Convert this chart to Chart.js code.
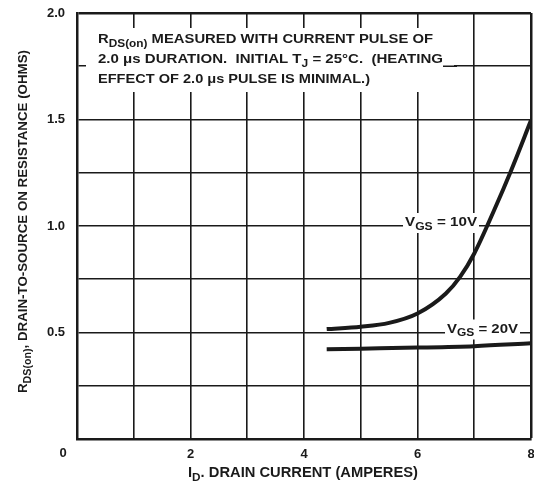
<!DOCTYPE html>
<html>
<head>
<meta charset="utf-8">
<script src="https://cdn.jsdelivr.net/npm/chart.js@4"></script>
<style>
  html, body { margin: 0; padding: 0; background: #fff; }
  #wrap { width: 534px; height: 487px; }
</style>
</head>
<body>
<div id="wrap"><canvas id="rdsChart" width="534" height="487"></canvas></div>
<script>
// values
const current10 = [4.4, 5.0, 5.5, 6.0, 6.5, 6.75, 7.0, 7.35, 7.65, 8.0];
const rds10 = [0.516, 0.527, 0.545, 0.589, 0.683, 0.761, 0.871, 1.074, 1.261, 1.496];
const current20 = [4.4, 5.0, 6.0, 7.0, 8.0];
const rds20 = [0.421, 0.424, 0.429, 0.436, 0.449];

const xTickLabels = ["", "2", "4", "6", "8"];      // every 2 A, 0 drawn at the corner
const yTickLabels = ["", "0.5", "1.0", "1.5", "2.0"];

const INK = "#1a1a1a";
const FONT = "'Liberation Sans', Arial, sans-serif";

function pts(xs, ys) {
    return xs.map((x, i) => ({ x: x, y: ys[i] }));
}

// draws text made of normal/subscript pieces, squeezed to a target width
function drawRich(ctx, segs, x, y, size, width) {
    ctx.save();
    let total = 0;
    segs.forEach(s => {
        ctx.font = "bold " + (s.sub ? size * 0.8 : size) + "px " + FONT;
        total += ctx.measureText(s.t).width;
    });
    let sx = width ? width / total : 1;
    ctx.translate(x, y);
    ctx.scale(sx, 1);
    ctx.fillStyle = INK;
    ctx.textBaseline = "alphabetic";
    ctx.textAlign = "left";
    let cx = 0;
    segs.forEach(s => {
        ctx.font = "bold " + (s.sub ? size * 0.8 : size) + "px " + FONT;
        ctx.fillText(s.t, cx, s.sub ? size * 0.3 : 0);
        cx += ctx.measureText(s.t).width;
    });
    ctx.restore();
}

const notes = {
    id: "notes",
    beforeDatasetsDraw(chart) {
        const ctx = chart.ctx, a = chart.chartArea;
        // text block in the upper left hides the grid
        ctx.save();
        ctx.fillStyle = "#fff";
        ctx.fillRect(a.left + 9, a.top + 15, 368, 64);
        ctx.restore();
        const lx = a.left + 21;
        drawRich(ctx, [{ t: "R" }, { t: "DS(on)", sub: true }, { t: " MEASURED WITH CURRENT PULSE OF" }], lx, a.top + 30, 13, 335);
        drawRich(ctx, [{ t: "2.0 \u03bcs DURATION.  INITIAL T" }, { t: "J", sub: true }, { t: " = 25\u00b0C.  (HEATING" }], lx, a.top + 50, 13, 345);
        drawRich(ctx, [{ t: "EFFECT OF 2.0 \u03bcs PULSE IS MINIMAL.)" }], lx, a.top + 70, 13, 272);
        ctx.save();
        ctx.strokeStyle = INK;
        ctx.lineWidth = 1.5;
        ctx.beginPath();
        ctx.moveTo(lx + 345, chart.scales.y.getPixelForValue(1.75));
        ctx.lineTo(a.left + 380, chart.scales.y.getPixelForValue(1.75));
        ctx.stroke();
        ctx.restore();
    },
    afterDatasetsDraw(chart) {
        const ctx = chart.ctx, xs = chart.scales.x, ys = chart.scales.y;
        const lab = (segs, xv, yv, w) => {
            const px = xs.getPixelForValue(xv), py = ys.getPixelForValue(yv);
            ctx.save();
            ctx.fillStyle = "#fff";
            ctx.fillRect(px - 2, py - 13, w + 4, 20);
            ctx.restore();
            drawRich(ctx, segs, px, py, 13, w);
        };
        lab([{ t: "V" }, { t: "GS", sub: true }, { t: " = 10V" }], 5.78, 1.0, 72);
        lab([{ t: "V" }, { t: "GS", sub: true }, { t: " = 20V" }], 6.52, 0.5, 71);
    },
    afterDraw(chart) {
        const ctx = chart.ctx, a = chart.chartArea;
        // corner zero shared by both axes
        ctx.save();
        ctx.font = "bold 13px " + FONT;
        ctx.fillStyle = INK;
        ctx.textAlign = "center";
        ctx.textBaseline = "middle";
        ctx.fillText("0", a.left - 14, a.bottom + 14);
        ctx.restore();
        // axis titles
        drawRich(ctx, [{ t: "I" }, { t: "D", sub: true }, { t: ". DRAIN CURRENT (AMPERES)" }], 188, a.bottom + 38, 14, 230);
        ctx.save();
        ctx.translate(27, 393);
        ctx.rotate(-Math.PI / 2);
        drawRich(ctx, [{ t: "R" }, { t: "DS(on)", sub: true }, { t: ", DRAIN-TO-SOURCE ON RESISTANCE (OHMS)" }], 0, 0, 13, 343);
        ctx.restore();
    }
};

const chart = new Chart(document.getElementById("rdsChart").getContext("2d"), {
    type: "line",
    data: {
        datasets: [
            {
                label: "VGS = 10V",
                data: pts(current10, rds10),
                borderColor: INK,
                borderWidth: 4,
                pointRadius: 0,
                cubicInterpolationMode: "monotone",
                fill: false
            },
            {
                label: "VGS = 20V",
                data: pts(current20, rds20),
                borderColor: INK,
                borderWidth: 4,
                pointRadius: 0,
                cubicInterpolationMode: "monotone",
                fill: false
            }
        ]
    },
    options: {
        responsive: false,
        animation: false,
        layout: { padding: { top: 13, right: 3, left: 0, bottom: 0 } },
        plugins: {
            legend: { display: false },
            tooltip: { enabled: false }
        },
        scales: {
            x: {
                type: "linear",
                min: 0,
                max: 8,
                afterFit: s => { s.height = 48; s.paddingLeft = 0; s.paddingRight = 0; },
                ticks: {
                    stepSize: 1,
                    padding: 8,
                    color: INK,
                    font: { family: FONT, size: 13, weight: "bold" },
                    callback: v => (v % 2 === 0 ? xTickLabels[v / 2] : "")
                },
                grid: {
                    drawTicks: false,
                    color: INK,
                    lineWidth: c => (c.tick && c.tick.value === 8 ? 2.5 : 1.6)
                },
                border: { display: true, color: INK, width: 2.5 }
            },
            y: {
                min: 0,
                max: 2,
                afterFit: s => { s.width = 77; s.paddingTop = 0; s.paddingBottom = 0; },
                ticks: {
                    stepSize: 0.25,
                    padding: 12,
                    color: INK,
                    font: { family: FONT, size: 13, weight: "bold" },
                    callback: v => (Math.abs(v * 2 - Math.round(v * 2)) < 1e-9 ? yTickLabels[Math.round(v * 2)] : "")
                },
                grid: {
                    drawTicks: false,
                    color: INK,
                    lineWidth: c => (c.tick && c.tick.value === 2 ? 2.5 : 1.6)
                },
                border: { display: true, color: INK, width: 2.5 }
            }
        }
    },
    plugins: [notes]
});
</script>
</body>
</html>
